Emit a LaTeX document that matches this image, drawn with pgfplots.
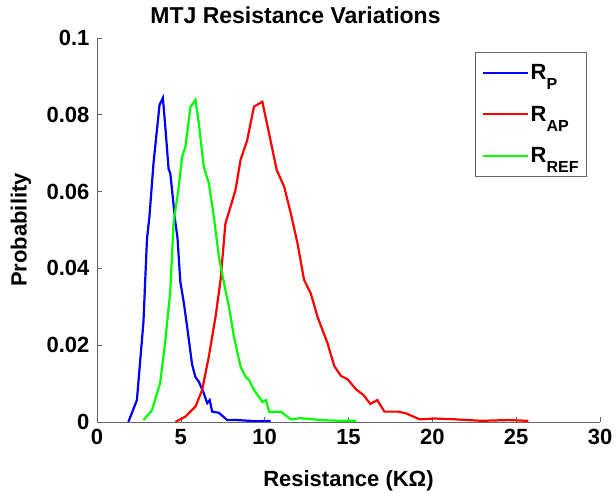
\documentclass[border=0pt]{standalone}
\usepackage{fontspec}
\setmainfont{Liberation Sans}
\usepackage{pgfplots}
\pgfplotsset{compat=1.18}
\definecolor{axgray}{gray}{0.4}
\newcommand{\sub}[1]{\raisebox{-10pt}{\fontsize{16}{18}\selectfont #1}}
\begin{document}
\begin{tikzpicture}
\begin{axis}[
  name=ax,
  scale only axis,
  width=503pt, height=384pt,
  xmin=0, xmax=30, ymin=0, ymax=0.1,
  xtick={0,5,...,30},
  ytick={0,0.02,0.04,0.06,0.08,0.1},
  scaled y ticks=false,
  yticklabel style={/pgf/number format/fixed, /pgf/number format/precision=2, xshift=-4pt},
  xticklabel style={yshift=-4pt},
  /pgf/number format/assume math mode=true,
  axis lines=left,
  axis line style={-, draw=axgray, line width=0.8pt},
  tick align=inside,
  major tick length=5pt,
  tick style={draw=axgray, line width=0.6pt},
  ticklabel style={font=\bfseries\fontsize{22}{26}\selectfont},
  label style={font=\bfseries\fontsize{22}{26}\selectfont},
  title style={font=\bfseries\fontsize{23}{27}\selectfont, at={(axis description cs:0.3946,1.022)}, anchor=base},
  title={MTJ Resistance Variations},
  xlabel={Resistance (KΩ)},
  ylabel={Probability},
  xlabel style={at={(axis description cs:0.5,-0.153)}, anchor=center},
  ylabel style={at={(axis description cs:-0.151,0.5)}, anchor=center},
  legend style={at={(axis description cs:0.974,0.9635)}, anchor=north east,
    draw=axgray, line width=0.6pt, font=\bfseries\fontsize{22}{26}\selectfont,
    row sep=21pt, inner xsep=6pt, inner ysep=10pt},
  legend cell align=left,
  legend image code/.code={\draw[#1, line width=2pt] (0pt,0pt) -- (45pt,0pt);},
  every axis plot/.append style={line width=2.2pt},
]
\addplot[color=blue, mark=none] coordinates {
(1.87,0) (2.38,0.0057) (2.77,0.026) (2.98,0.0476) (3.13,0.0536) (3.37,0.0674)
(3.73,0.0826) (3.93,0.0844) (4.07,0.0771) (4.27,0.0659) (4.37,0.0648) (4.47,0.0607)
(4.67,0.0521) (4.80,0.0480) (4.97,0.0365) (5.17,0.0313) (5.37,0.0250) (5.67,0.0150)
(5.87,0.0117) (6.07,0.0105) (6.37,0.0075) (6.57,0.0049) (6.72,0.0057) (6.87,0.0027)
(7.27,0.0024) (7.77,0.0005) (8.37,0.0005) (9.5,0.0002) (10.36,0.0003)
};
\addlegendentry{R\sub{P}}
\addplot[color=red, mark=none] coordinates {
(4.67,0) (5.27,0.0014) (5.87,0.004) (6.27,0.0083) (6.67,0.017) (7.07,0.0274)
(7.37,0.037) (7.66,0.0517) (7.96,0.056) (8.26,0.0604) (8.56,0.0682) (8.96,0.0734)
(9.36,0.0821) (9.86,0.0834) (10.26,0.0752) (10.72,0.0656) (11.16,0.0613) (11.56,0.0543)
(11.96,0.0465) (12.35,0.037) (12.75,0.0335) (13.15,0.0274) (13.75,0.0205) (14.15,0.0146)
(14.55,0.0120) (14.95,0.0111) (15.45,0.0085) (15.90,0.0070) (16.30,0.0047) (16.72,0.0057)
(17.14,0.0027) (17.94,0.0027) (18.40,0.0023) (19.24,0.0007) (20.14,0.0009) (21.34,0.0007)
(22.93,0.0003) (24.53,0.0005) (25.73,0.0003)
};
\addlegendentry{R\sub{AP}}
\addplot[color=green, mark=none] coordinates {
(2.77,0.0005) (3.27,0.003) (3.77,0.0102) (4.07,0.021) (4.37,0.034) (4.57,0.052)
(4.87,0.061) (5.07,0.069) (5.27,0.0716) (5.57,0.082) (5.87,0.0839) (6.07,0.0779)
(6.37,0.0664) (6.67,0.0622) (6.97,0.0534) (7.27,0.043) (7.57,0.0362) (7.87,0.030)
(8.17,0.0221) (8.57,0.0143) (8.87,0.0117) (9.07,0.0109) (9.37,0.0083) (9.67,0.0065)
(9.87,0.0052) (10.07,0.0057) (10.27,0.0026) (10.96,0.0027) (11.56,0.0007) (12.16,0.001)
(13.35,0.0005) (14.55,0.0003) (15.45,0.0003)
};
\addlegendentry{R\sub{REF}}
\end{axis}
\pgfresetboundingbox
\path ([shift={(-97pt,-78pt)}]ax.south west) rectangle ([shift={(16pt,38pt)}]ax.north east);
\end{tikzpicture}
\end{document}
